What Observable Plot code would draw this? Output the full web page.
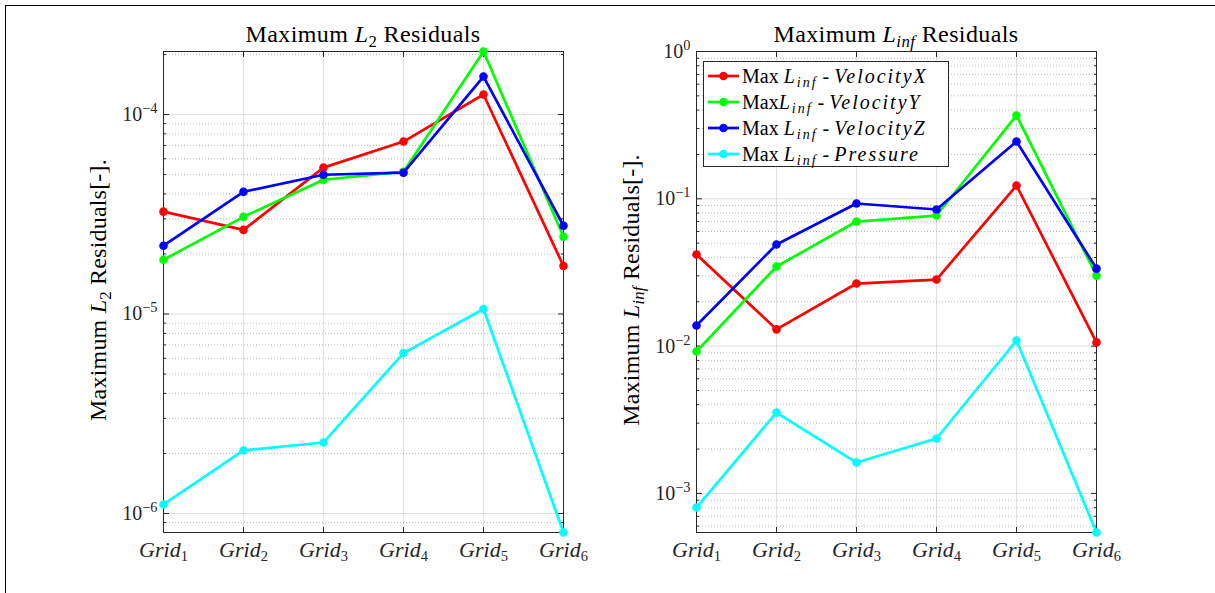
<!DOCTYPE html>
<html><head><meta charset="utf-8">
<script src="https://cdn.jsdelivr.net/npm/d3@7"></script>
<script src="https://cdn.jsdelivr.net/npm/@observablehq/plot@0.6"></script>
<style>
html,body{margin:0;padding:0;background:#fff;overflow:hidden;}
#fig{position:relative;width:1215px;height:593px;overflow:hidden;font-family:"Liberation Serif","Times New Roman",serif;color:#000;}
#fig svg text{font-family:"Liberation Serif","Times New Roman",serif !important;}
#border{position:absolute;left:5px;top:5px;width:1400px;height:800px;border-left:1.2px solid #000;border-top:1.2px solid #000;}
.panel{position:absolute;top:0;}
.title{position:absolute;font-size:24px;line-height:1;white-space:nowrap;transform:translateX(-50%);letter-spacing:0.4px;}
.ylab{position:absolute;font-size:24px;line-height:1;white-space:nowrap;transform:translate(-50%,-50%) rotate(-90deg);letter-spacing:0.2px;}
sub{font-size:0.7em;vertical-align:-0.28em;line-height:0;}
#legend{position:absolute;left:703px;top:61px;width:246px;height:106px;border:1px solid #262626;background:#fff;box-sizing:border-box;padding-top:1px;}
.lrow{height:26px;line-height:26px;font-size:20px;white-space:nowrap;display:flex;align-items:center;}
.lrow svg{margin-left:3px;margin-right:2px;flex:none;}
.m{letter-spacing:0.1em;}
</style>
</head><body>
<div id="fig">
  <div id="border"></div>
</div>
<script>
// ---- data ----
const grids = ["Grid1", "Grid2", "Grid3", "Grid4", "Grid5", "Grid6"];
const seriesNames = ["VelocityX", "VelocityY", "VelocityZ", "Pressure"];
const seriesColors = ["#ff0000", "#00ff00", "#0000ff", "#00ffff"];

const l2VelocityX = [3.26e-5, 2.64e-5, 5.42e-5, 7.32e-5, 1.26e-4, 1.74e-5];
const l2VelocityY = [1.87e-5, 3.07e-5, 4.71e-5, 5.17e-5, 2.07e-4, 2.44e-5];
const l2VelocityZ = [2.20e-5, 4.10e-5, 4.99e-5, 5.11e-5, 1.55e-4, 2.77e-5];
const l2Pressure  = [1.11e-6, 2.07e-6, 2.27e-6, 6.37e-6, 1.06e-5, 8.03e-7];

const linfVelocityX = [0.0419, 0.0130, 0.0266, 0.0283, 0.123, 0.0106];
const linfVelocityY = [0.0092, 0.0347, 0.0701, 0.0770, 0.368, 0.0301];
const linfVelocityZ = [0.0138, 0.0490, 0.0929, 0.0846, 0.245, 0.0336];
const linfPressure  = [8.02e-4, 3.54e-3, 1.62e-3, 2.36e-3, 0.01092, 5.43e-4];

const l2Ticks = [1e-6, 1e-5, 1e-4];
const linfTicks = [1e-3, 1e-2, 1e-1, 1e0];

const titles = ["Maximum <i>L</i><sub>2</sub> Residuals", "Maximum <i>L<sub>inf</sub></i> Residuals"];
const yLabels = ["Maximum <i>L</i><sub>2</sub> Residuals[-].", "Maximum <i>L<sub>inf</sub></i> Residuals[-]."];
const legendLabels = [
  "Max <i class='m'>L<sub>inf</sub></i> - <i class='m'>VelocityX</i>",
  "Max<i class='m'>L<sub>inf</sub></i> - <i class='m'>VelocityY</i>",
  "Max <i class='m'>L<sub>inf</sub></i> - <i class='m'>VelocityZ</i>",
  "Max <i class='m'>L<sub>inf</sub></i> - <i class='m'>Pressure</i>"
];

// ---- helpers ----
function minorTicks([lo, hi]) {
  const out = [];
  for (let k = Math.floor(Math.log10(lo)); k <= Math.ceil(Math.log10(hi)); k++)
    for (let m = 2; m <= 9; m++) { const v = m * Math.pow(10, k); if (v >= lo && v <= hi) out.push(v); }
  return out;
}
const expFmt = d => "10^" + String(Math.round(Math.log10(d))).replace("-", "\u2212");
const blank = () => "";
const AX = "#262626";

function panel({series, ticks, domain, width, marginLeft, marginRight}) {
  const minor = minorTicks(domain);
  const perSeries = series.flatMap((vals, s) => {
    const rows = vals.map((v, i) => ({grid: grids[i], value: v, series: seriesNames[s]}));
    return [
      Plot.line(rows, {x: "grid", y: "value", stroke: seriesColors[s], strokeWidth: 2.7}),
      Plot.dot(rows, {x: "grid", y: "value", fill: seriesColors[s], stroke: seriesColors[s], r: 3.6, strokeWidth: 1.4})
    ];
  });
  const svg = Plot.plot({
    width, height: 593,
    marginTop: 51, marginBottom: 61, marginLeft, marginRight,
    style: {fontFamily: '"Liberation Serif", serif', color: AX, background: "transparent", overflow: "visible"},
    x: {type: "point", domain: grids, padding: 0, label: null},
    y: {type: "log", domain, label: null},
    marks: [
      Plot.gridX(grids, {stroke: AX, strokeOpacity: 0.15, strokeWidth: 1}),
      Plot.gridY(minor, {stroke: AX, strokeOpacity: 0.3, strokeDasharray: "1,2", strokeWidth: 1}),
      Plot.gridY(ticks, {stroke: AX, strokeOpacity: 0.15, strokeWidth: 1}),
      Plot.axisX(grids, {anchor: "bottom", tickSize: 0, tickPadding: 9, tickFormat: d => d, fontSize: 22, label: null}),
      Plot.axisX(grids, {anchor: "bottom", tickSize: -5, tickFormat: blank, label: null}),
      Plot.axisX(grids, {anchor: "top", tickSize: -5, tickFormat: blank, label: null}),
      Plot.axisY(ticks, {anchor: "left", tickSize: 0, tickPadding: 6, tickFormat: expFmt, fontSize: 20, label: null}),
      Plot.axisY(ticks, {anchor: "left", tickSize: -6, tickFormat: blank, label: null}),
      Plot.axisY(minor, {anchor: "left", tickSize: -3, tickFormat: blank, label: null}),
      Plot.axisY(ticks, {anchor: "right", tickSize: -6, tickFormat: blank, label: null}),
      Plot.axisY(minor, {anchor: "right", tickSize: -3, tickFormat: blank, label: null}),
      Plot.frame({stroke: AX, strokeWidth: 1}),
      ...perSeries
    ]
  });
  // rich tick labels: superscripts / subscripts
  d3.select(svg).selectAll('g[aria-label="y-axis tick label"] text').each(function() {
    const t = this.textContent; if (!t.includes("^")) return;
    const [b, e] = t.split("^");
    const s = d3.select(this); s.text(null);
    s.append("tspan").text(b);
    s.append("tspan").attr("dy", "-0.55em").attr("font-size", "0.72em").text(e);
  });
  d3.select(svg).selectAll('g[aria-label="x-axis tick label"] text').each(function() {
    const t = this.textContent; const m = /^([A-Za-z]+)(\d+)$/.exec(t); if (!m) return;
    const s = d3.select(this); s.text(null);
    s.append("tspan").attr("font-style", "italic").text(m[1]);
    s.append("tspan").attr("dy", "0.3em").attr("font-size", "0.66em").text(m[2]);
  });
  return svg;
}

const fig = document.getElementById("fig");

const l2All = [l2VelocityX, l2VelocityY, l2VelocityZ, l2Pressure];
const linfAll = [linfVelocityX, linfVelocityY, linfVelocityZ, linfPressure];

const left = panel({series: l2All, ticks: l2Ticks, domain: d3.extent(l2All.flat()),
  width: 607, marginLeft: 163, marginRight: 44});
const right = panel({series: linfAll, ticks: linfTicks, domain: [d3.min(linfAll.flat()), 1],
  width: 608, marginLeft: 89, marginRight: 608 - 489});

const w1 = document.createElement("div"); w1.className = "panel"; w1.style.left = "0px"; w1.appendChild(left); fig.appendChild(w1);
const w2 = document.createElement("div"); w2.className = "panel"; w2.style.left = "607px"; w2.appendChild(right); fig.appendChild(w2);

function addDiv(cls, html, x, y) {
  const d = document.createElement("div"); d.className = cls; d.innerHTML = html;
  d.style.left = x + "px"; d.style.top = y + "px"; fig.appendChild(d); return d;
}
addDiv("title", titles[0], 363, 22);
addDiv("title", titles[1], 896, 22);
addDiv("ylab", yLabels[0], 98, 290);
addDiv("ylab", yLabels[1], 631, 290);

const leg = document.createElement("div"); leg.id = "legend";
seriesNames.forEach((n, i) => {
  const row = document.createElement("div"); row.className = "lrow";
  row.innerHTML = `<svg width="33" height="12"><line x1="1" y1="6" x2="32" y2="6" stroke="${seriesColors[i]}" stroke-width="2.7"/><circle cx="16.5" cy="6" r="3.6" fill="${seriesColors[i]}" stroke="${seriesColors[i]}" stroke-width="1.4"/></svg><span>${legendLabels[i]}</span>`;
  leg.appendChild(row);
});
fig.appendChild(leg);
</script>
</body></html>
